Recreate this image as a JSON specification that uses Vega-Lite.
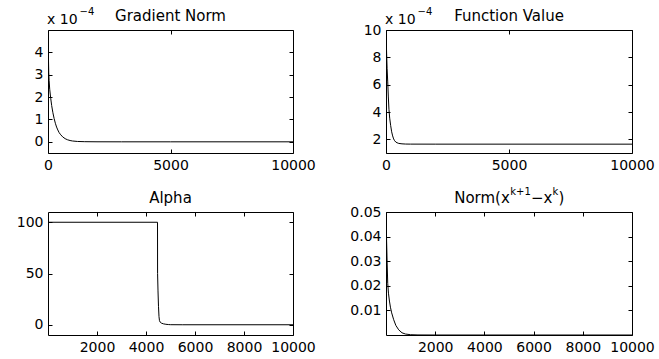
{
  "$schema": "https://vega.github.io/schema/vega-lite/v6.json",
  "background": "white",
  "padding": {"left": 15, "top": 6, "right": 5, "bottom": 5},
  "datasets": {
    "grad": [
      {"iter": 1, "value": 4.9}, {"iter": 10, "value": 4.3}, {"iter": 20, "value": 3.65},
      {"iter": 30, "value": 3.1}, {"iter": 45, "value": 2.75}, {"iter": 70, "value": 2.35},
      {"iter": 110, "value": 1.95}, {"iter": 150, "value": 1.62}, {"iter": 200, "value": 1.3},
      {"iter": 250, "value": 1.04}, {"iter": 300, "value": 0.83}, {"iter": 350, "value": 0.66},
      {"iter": 400, "value": 0.53}, {"iter": 450, "value": 0.42}, {"iter": 500, "value": 0.34},
      {"iter": 600, "value": 0.22}, {"iter": 700, "value": 0.14}, {"iter": 800, "value": 0.09},
      {"iter": 900, "value": 0.058}, {"iter": 1000, "value": 0.037}, {"iter": 1200, "value": 0.016},
      {"iter": 1500, "value": 0.006}, {"iter": 2000, "value": 0.0015}, {"iter": 3000, "value": 0.0002},
      {"iter": 5000, "value": 0}, {"iter": 10000, "value": 0}
    ],
    "fval": [
      {"iter": 1, "value": 9.95}, {"iter": 10, "value": 9.3}, {"iter": 25, "value": 8.3},
      {"iter": 45, "value": 7.2}, {"iter": 70, "value": 6.2}, {"iter": 95, "value": 5.1},
      {"iter": 120, "value": 4.2}, {"iter": 150, "value": 3.55}, {"iter": 190, "value": 3.0},
      {"iter": 230, "value": 2.55}, {"iter": 270, "value": 2.25}, {"iter": 310, "value": 2.03},
      {"iter": 350, "value": 1.9}, {"iter": 400, "value": 1.8}, {"iter": 450, "value": 1.75},
      {"iter": 520, "value": 1.7}, {"iter": 650, "value": 1.67}, {"iter": 800, "value": 1.655},
      {"iter": 1000, "value": 1.65}, {"iter": 2000, "value": 1.648}, {"iter": 10000, "value": 1.647}
    ],
    "alpha": [
      {"iter": 1, "value": 100}, {"iter": 4470, "value": 100}, {"iter": 4473, "value": 50},
      {"iter": 4490, "value": 33}, {"iter": 4510, "value": 18}, {"iter": 4530, "value": 8},
      {"iter": 4550, "value": 4}, {"iter": 4580, "value": 2.5}, {"iter": 4630, "value": 1.6},
      {"iter": 4710, "value": 0.9}, {"iter": 4810, "value": 0.45}, {"iter": 4910, "value": 0.2},
      {"iter": 5010, "value": 0.05}, {"iter": 5500, "value": 0}, {"iter": 10000, "value": 0}
    ],
    "step": [
      {"iter": 1, "value": 0.05}, {"iter": 10, "value": 0.045}, {"iter": 25, "value": 0.038},
      {"iter": 45, "value": 0.03}, {"iter": 70, "value": 0.021}, {"iter": 100, "value": 0.017},
      {"iter": 140, "value": 0.0138}, {"iter": 180, "value": 0.0113}, {"iter": 230, "value": 0.009},
      {"iter": 313, "value": 0.0062}, {"iter": 400, "value": 0.0039}, {"iter": 516, "value": 0.0021},
      {"iter": 650, "value": 0.0009}, {"iter": 790, "value": 0.0004}, {"iter": 1000, "value": 0.00012},
      {"iter": 1300, "value": 0.00002}, {"iter": 2000, "value": 0}, {"iter": 10000, "value": 0}
    ],
    "head_grad": [{"left": 0, "mid": 5000, "top": 5, "title": "Gradient Norm", "base": "x 10", "power": "−4"}],
    "head_fval": [{"left": 0, "mid": 5000, "top": 10, "title": "Function Value", "base": "x 10", "power": "−4"}],
    "head_alpha": [{"mid": 5000, "top": 110, "title": "Alpha"}],
    "head_step": [{"mid": 5000, "top": 0.05, "p1": "Norm(x", "p2": "k+1", "p3": "−x", "p4": "k", "p5": ")"}]
  },
  "columns": 2,
  "spacing": {"row": 59, "column": 93},
  "bounds": "flush",
  "concat": [
    {
      "width": 245, "height": 123,
      "layer": [
        {
          "data": {"name": "grad"},
          "mark": {"type": "line", "color": "black", "strokeWidth": 1, "clip": true},
          "encoding": {
            "x": {"field": "iter", "type": "quantitative", "scale": {"domain": [0, 10000], "nice": false},
                  "axis": {"orient": "bottom", "values": [0, 5000, 10000], "format": "d"}},
            "y": {"field": "value", "type": "quantitative", "scale": {"domain": [-0.5, 5], "nice": false, "zero": false},
                  "axis": {"orient": "left", "values": [0, 1, 2, 3, 4], "format": "d"}}
          }
        },
        {
          "data": {"name": "grad"},
          "mark": {"type": "line", "strokeOpacity": 0},
          "encoding": {
            "x": {"field": "iter", "type": "quantitative", "axis": {"orient": "top", "labels": false, "values": [0, 5000, 10000]}},
            "y": {"field": "value", "type": "quantitative", "axis": {"orient": "right", "labels": false, "values": [0, 1, 2, 3, 4]}}
          }
        },
        {
          "data": {"name": "head_grad"},
          "mark": {"type": "text", "align": "center", "baseline": "alphabetic", "dy": -9, "fontSize": 15},
          "encoding": {
            "x": {"field": "mid", "type": "quantitative", "axis": null},
            "y": {"field": "top", "type": "quantitative", "axis": null},
            "text": {"field": "title"}
          }
        },
        {
          "data": {"name": "head_grad"},
          "mark": {"type": "text", "align": "left", "baseline": "alphabetic", "dx": -1, "dy": -6, "fontSize": 14},
          "encoding": {
            "x": {"field": "left", "type": "quantitative", "axis": null},
            "y": {"field": "top", "type": "quantitative", "axis": null},
            "text": {"field": "base"}
          }
        },
        {
          "data": {"name": "head_grad"},
          "mark": {"type": "text", "align": "left", "baseline": "alphabetic", "dx": 31.5, "dy": -15, "fontSize": 10},
          "encoding": {
            "x": {"field": "left", "type": "quantitative", "axis": null},
            "y": {"field": "top", "type": "quantitative", "axis": null},
            "text": {"field": "power"}
          }
        }
      ],
      "resolve": {"axis": {"x": "independent", "y": "independent"}}
    },
    {
      "width": 246, "height": 123,
      "layer": [
        {
          "data": {"name": "fval"},
          "mark": {"type": "line", "color": "black", "strokeWidth": 1, "clip": true},
          "encoding": {
            "x": {"field": "iter", "type": "quantitative", "scale": {"domain": [0, 10000], "nice": false},
                  "axis": {"orient": "bottom", "values": [0, 5000, 10000], "format": "d"}},
            "y": {"field": "value", "type": "quantitative", "scale": {"domain": [1, 10], "nice": false, "zero": false},
                  "axis": {"orient": "left", "values": [2, 4, 6, 8, 10], "format": "d"}}
          }
        },
        {
          "data": {"name": "fval"},
          "mark": {"type": "line", "strokeOpacity": 0},
          "encoding": {
            "x": {"field": "iter", "type": "quantitative", "axis": {"orient": "top", "labels": false, "values": [0, 5000, 10000]}},
            "y": {"field": "value", "type": "quantitative", "axis": {"orient": "right", "labels": false, "values": [2, 4, 6, 8, 10]}}
          }
        },
        {
          "data": {"name": "head_fval"},
          "mark": {"type": "text", "align": "center", "baseline": "alphabetic", "dy": -9, "fontSize": 15},
          "encoding": {
            "x": {"field": "mid", "type": "quantitative", "axis": null},
            "y": {"field": "top", "type": "quantitative", "axis": null},
            "text": {"field": "title"}
          }
        },
        {
          "data": {"name": "head_fval"},
          "mark": {"type": "text", "align": "left", "baseline": "alphabetic", "dx": -1, "dy": -6, "fontSize": 14},
          "encoding": {
            "x": {"field": "left", "type": "quantitative", "axis": null},
            "y": {"field": "top", "type": "quantitative", "axis": null},
            "text": {"field": "base"}
          }
        },
        {
          "data": {"name": "head_fval"},
          "mark": {"type": "text", "align": "left", "baseline": "alphabetic", "dx": 31.5, "dy": -15, "fontSize": 10},
          "encoding": {
            "x": {"field": "left", "type": "quantitative", "axis": null},
            "y": {"field": "top", "type": "quantitative", "axis": null},
            "text": {"field": "power"}
          }
        }
      ],
      "resolve": {"axis": {"x": "independent", "y": "independent"}}
    },
    {
      "width": 245, "height": 123,
      "layer": [
        {
          "data": {"name": "alpha"},
          "mark": {"type": "line", "color": "black", "strokeWidth": 1, "clip": true},
          "encoding": {
            "x": {"field": "iter", "type": "quantitative", "scale": {"domain": [0, 10000], "nice": false},
                  "axis": {"orient": "bottom", "values": [2000, 4000, 6000, 8000, 10000], "format": "d"}},
            "y": {"field": "value", "type": "quantitative", "scale": {"domain": [-10, 110], "nice": false, "zero": false},
                  "axis": {"orient": "left", "values": [0, 50, 100], "format": "d"}}
          }
        },
        {
          "data": {"name": "alpha"},
          "mark": {"type": "line", "strokeOpacity": 0},
          "encoding": {
            "x": {"field": "iter", "type": "quantitative", "axis": {"orient": "top", "labels": false, "values": [2000, 4000, 6000, 8000, 10000]}},
            "y": {"field": "value", "type": "quantitative", "axis": {"orient": "right", "labels": false, "values": [0, 50, 100]}}
          }
        },
        {
          "data": {"name": "head_alpha"},
          "mark": {"type": "text", "align": "center", "baseline": "alphabetic", "dy": -9, "fontSize": 15},
          "encoding": {
            "x": {"field": "mid", "type": "quantitative", "axis": null},
            "y": {"field": "top", "type": "quantitative", "axis": null},
            "text": {"field": "title"}
          }
        }
      ],
      "resolve": {"axis": {"x": "independent", "y": "independent"}}
    },
    {
      "width": 246, "height": 123,
      "layer": [
        {
          "data": {"name": "step"},
          "mark": {"type": "line", "color": "black", "strokeWidth": 1, "clip": true},
          "encoding": {
            "x": {"field": "iter", "type": "quantitative", "scale": {"domain": [0, 10000], "nice": false},
                  "axis": {"orient": "bottom", "values": [2000, 4000, 6000, 8000, 10000], "format": "d"}},
            "y": {"field": "value", "type": "quantitative", "scale": {"domain": [0, 0.05], "nice": false},
                  "axis": {"orient": "left", "values": [0.01, 0.02, 0.03, 0.04, 0.05], "format": ".2f"}}
          }
        },
        {
          "data": {"name": "step"},
          "mark": {"type": "line", "strokeOpacity": 0},
          "encoding": {
            "x": {"field": "iter", "type": "quantitative", "axis": {"orient": "top", "labels": false, "values": [2000, 4000, 6000, 8000, 10000]}},
            "y": {"field": "value", "type": "quantitative", "axis": {"orient": "right", "labels": false, "values": [0.01, 0.02, 0.03, 0.04, 0.05]}}
          }
        },
        {
          "data": {"name": "head_step"},
          "mark": {"type": "text", "align": "left", "baseline": "alphabetic", "dx": -54.8, "dy": -9, "fontSize": 15},
          "encoding": {
            "x": {"field": "mid", "type": "quantitative", "axis": null},
            "y": {"field": "top", "type": "quantitative", "axis": null},
            "text": {"field": "p1"}
          }
        },
        {
          "data": {"name": "head_step"},
          "mark": {"type": "text", "align": "left", "baseline": "alphabetic", "dx": 1.3, "dy": -17, "fontSize": 10},
          "encoding": {
            "x": {"field": "mid", "type": "quantitative", "axis": null},
            "y": {"field": "top", "type": "quantitative", "axis": null},
            "text": {"field": "p2"}
          }
        },
        {
          "data": {"name": "head_step"},
          "mark": {"type": "text", "align": "left", "baseline": "alphabetic", "dx": 22, "dy": -9, "fontSize": 15},
          "encoding": {
            "x": {"field": "mid", "type": "quantitative", "axis": null},
            "y": {"field": "top", "type": "quantitative", "axis": null},
            "text": {"field": "p3"}
          }
        },
        {
          "data": {"name": "head_step"},
          "mark": {"type": "text", "align": "left", "baseline": "alphabetic", "dx": 43.6, "dy": -17, "fontSize": 10},
          "encoding": {
            "x": {"field": "mid", "type": "quantitative", "axis": null},
            "y": {"field": "top", "type": "quantitative", "axis": null},
            "text": {"field": "p4"}
          }
        },
        {
          "data": {"name": "head_step"},
          "mark": {"type": "text", "align": "left", "baseline": "alphabetic", "dx": 49.6, "dy": -9, "fontSize": 15},
          "encoding": {
            "x": {"field": "mid", "type": "quantitative", "axis": null},
            "y": {"field": "top", "type": "quantitative", "axis": null},
            "text": {"field": "p5"}
          }
        }
      ],
      "resolve": {"axis": {"x": "independent", "y": "independent"}}
    }
  ],
  "config": {
    "view": {"stroke": "black", "strokeWidth": 1},
    "font": "DejaVu Sans",
    "text": {"font": "DejaVu Sans", "color": "black"},
    "axis": {
      "grid": false,
      "domain": false,
      "title": null,
      "ticks": true,
      "tickColor": "black",
      "tickSize": -4,
      "labelPadding": 9,
      "labelFont": "DejaVu Sans",
      "labelFontSize": 14,
      "labelColor": "black",
      "labelFlush": false,
      "labelOverlap": false,
      "labelBound": false
    }
  }
}
